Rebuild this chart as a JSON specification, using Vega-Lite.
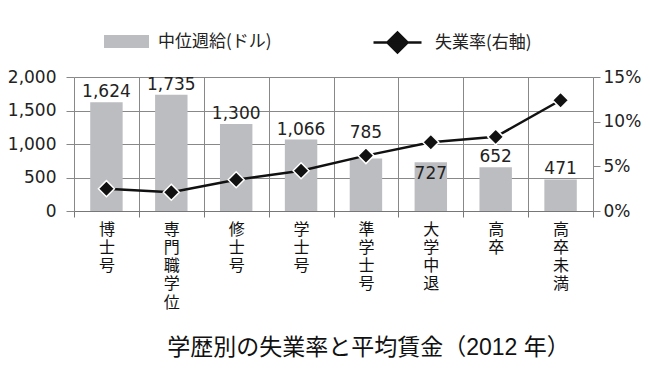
{
  "$schema": "https://vega.github.io/schema/vega-lite/v6.json",
  "width": 519,
  "height": 134,
  "autosize": {"type": "none"},
  "padding": {"left": 74, "top": 77, "right": 57, "bottom": 172},
  "background": "white",
  "config": {"view": {"stroke": null}, "font": "Liberation Sans, Noto Sans CJK JP"},
  "title": {
    "text": "学歴別の失業率と平均賃金（2012 年）",
    "orient": "bottom",
    "font": "Liberation Sans, Noto Sans CJK JP",
    "fontSize": 23,
    "fontWeight": "normal",
    "color": "#111",
    "offset": 27,
    "dx": 35
  },
  "data": {
    "values": [
      {"edu": "博士号", "wage": 1624, "rate": 2.5},
      {"edu": "専門職学位", "wage": 1735, "rate": 2.1},
      {"edu": "修士号", "wage": 1300, "rate": 3.5},
      {"edu": "学士号", "wage": 1066, "rate": 4.5},
      {"edu": "準学士号", "wage": 785, "rate": 6.2},
      {"edu": "大学中退", "wage": 727, "rate": 7.7},
      {"edu": "高卒", "wage": 652, "rate": 8.3},
      {"edu": "高卒未満", "wage": 471, "rate": 12.4}
    ]
  },
  "encoding": {
    "x": {
      "field": "edu",
      "type": "nominal",
      "sort": null,
      "scale": {"paddingInner": 0, "paddingOuter": 0},
      "axis": {
        "title": null,
        "tickBand": "extent",
        "grid": true,
        "gridColor": "#888",
        "tickColor": "#777",
        "tickSize": 6,
        "domainColor": "#777",
        "labelAngle": 0,
        "labelExpr": "split(datum.label, '')",
        "labelFont": "Noto Sans CJK JP",
        "labelFontSize": 16,
        "labelLineHeight": 18.3,
        "labelColor": "#111",
        "labelBaseline": "top",
        "labelPadding": 4
      }
    }
  },
  "layer": [
    {
      "encoding": {
        "y": {
          "field": "wage",
          "type": "quantitative",
          "scale": {"domain": [0, 2000]},
          "axis": {
            "title": null,
            "values": [0, 500, 1000, 1500, 2000],
            "labelExpr": "format(datum.value, ',')",
            "grid": true,
            "gridColor": "#888",
            "domain": false,
            "tickColor": "#888",
            "tickSize": 8,
            "labelPadding": 10,
            "labelFont": "DejaVu Sans",
            "labelFontSize": 17,
            "labelColor": "#222"
          }
        }
      },
      "layer": [
        {
          "mark": {"type": "bar", "width": {"band": 0.5}},
          "encoding": {
            "fill": {
              "datum": "中位週給(ドル)",
              "type": "nominal",
              "scale": {"range": ["#bcbdc0"]},
              "legend": {
                "title": null,
                "orient": "none",
                "legendX": 30,
                "legendY": -58,
                "padding": 0,
                "symbolType": "M-1,-0.29H1V0.29H-1Z",
                "symbolSize": 2025,
                "symbolStrokeWidth": 0,
                "labelFont": "Noto Sans CJK JP",
                "labelFontSize": 17,
                "labelColor": "#222",
                "labelOffset": 9
              }
            }
          }
        },
        {
          "transform": [{"filter": "datum.wage != 785 && datum.wage != 727"}],
          "mark": {"type": "text", "baseline": "alphabetic", "dy": -5, "font": "DejaVu Sans", "fontSize": 17, "color": "#222"},
          "encoding": {"text": {"field": "wage", "type": "quantitative", "format": ","}}
        },
        {
          "transform": [{"filter": "datum.wage == 785"}],
          "mark": {"type": "text", "baseline": "alphabetic", "dy": -20, "font": "DejaVu Sans", "fontSize": 17, "color": "#222"},
          "encoding": {"text": {"field": "wage", "type": "quantitative", "format": ","}}
        },
        {
          "transform": [{"filter": "datum.wage == 727"}],
          "mark": {"type": "text", "baseline": "alphabetic", "dy": 17, "font": "DejaVu Sans", "fontSize": 17, "color": "#222"},
          "encoding": {"text": {"field": "wage", "type": "quantitative", "format": ","}}
        }
      ]
    },
    {
      "encoding": {
        "y": {
          "field": "rate",
          "type": "quantitative",
          "scale": {"domain": [0, 15]},
          "axis": {
            "title": null,
            "orient": "right",
            "values": [0, 5, 10, 15],
            "labelExpr": "datum.value + '%'",
            "grid": false,
            "domain": true,
            "domainColor": "#888",
            "tickColor": "#888",
            "tickSize": 7,
            "labelPadding": 3,
            "labelFont": "DejaVu Sans",
            "labelFontSize": 17,
            "labelColor": "#222"
          }
        }
      },
      "layer": [
        {
          "mark": {"type": "line", "strokeWidth": 2.5},
          "encoding": {
            "stroke": {
              "datum": "失業率(右軸)",
              "type": "nominal",
              "scale": {"range": ["#111"]},
              "legend": {
                "title": null,
                "orient": "none",
                "legendX": 298,
                "legendY": -60,
                "padding": 0,
                "symbolType": "M-1,0H1M-0.42,0L0,-0.42L0.42,0L0,0.42Z",
                "symbolSize": 2304,
                "symbolStrokeWidth": 2.5,
                "symbolFillColor": "#111",
                "labelFont": "Noto Sans CJK JP",
                "labelFontSize": 17,
                "labelColor": "#222",
                "labelOffset": 12
              }
            }
          }
        },
        {
          "mark": {"type": "point", "shape": "diamond", "size": 256, "filled": true, "color": "#111", "stroke": "white", "strokeWidth": 1.5, "opacity": 1}
        }
      ]
    }
  ],
  "resolve": {"scale": {"y": "independent"}}
}
